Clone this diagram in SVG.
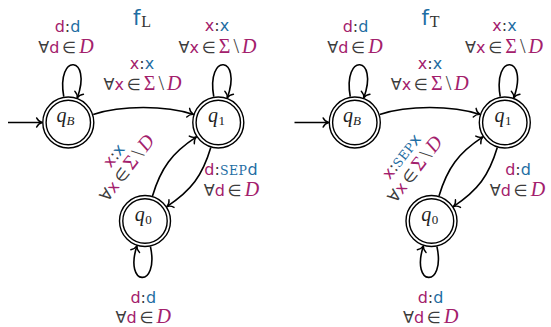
<svg xmlns="http://www.w3.org/2000/svg" width="551" height="327" viewBox="0 0 551 327">
<style>
.e{fill:none;stroke:#000;stroke-width:1.6}
.c{fill:#fff;stroke:#000;stroke-width:1.4}
.ci{fill:none;stroke:#000;stroke-width:1.4}
.q{font-family:"Liberation Serif",serif;font-style:italic;font-size:20px;fill:#222}
.qs{font-family:"Liberation Serif",serif;font-style:normal;font-size:13px;fill:#222}
.qsi{font-family:"Liberation Serif",serif;font-style:italic;font-size:13px;fill:#222}
.l{font-family:"DejaVu Sans",sans-serif;font-size:16px;text-anchor:middle}
.m{fill:#a3206c}
.b{fill:#1f6ea3}
.g{fill:#3c3c3c}
.mt{font-family:"Liberation Serif",serif;font-style:italic;font-size:20px}
.gr{font-family:"Liberation Serif",serif;font-size:20px}
.sc{font-family:"DejaVu Serif",serif;font-size:12.5px;letter-spacing:0.5px}
.ft{font-family:"DejaVu Sans",sans-serif;font-size:21px;fill:#1f6ea3}
.fs{font-family:"Liberation Serif",serif;font-size:16px;fill:#333}
</style>
<defs>
<marker id="arr" markerUnits="userSpaceOnUse" markerWidth="14" markerHeight="14" viewBox="-7 -7 14 14" refX="0" refY="0" orient="auto" overflow="visible">
<path d="M-5.5,-4.6 C-4.2,-2 -1.8,-0.5 0,0 C-1.8,0.5 -4.2,2 -5.5,4.6" fill="none" stroke="#000" stroke-width="1.4" stroke-linecap="round"/>
</marker>
</defs>

<g id="diagram-fL">
<g id="connectors-fL">
<path class="e" d="M8,122.5 L42.1,122.5" marker-end="url(#arr)"/>
<path class="e" d="M93.2,114.4 C121.5,105.2 165.1,105.2 193.4,114.4" marker-end="url(#arr)"/>
<path class="e" d="M152.5,195.9 C160.9,167.8 171.9,153 196.4,136.9" marker-end="url(#arr)"/>
<path class="e" d="M210.8,147.6 C202.4,175.7 191.4,190.5 166.9,206.6" marker-end="url(#arr)"/>
<path class="e" d="M63.75,96.7 C55.95,52.4 92.66,55.6 77.26,97.9" marker-end="url(#arr)"/>
<path class="e" d="M213.75,96.7 C205.95,52.4 242.66,55.6 227.26,97.9" marker-end="url(#arr)"/>
<path class="e" d="M150.45,246.6 C159.4,288.7 123.6,286.8 136.9,245.9" marker-end="url(#arr)"/>
</g>
<g id="node-fL-qB">
<circle class="c" cx="68.3" cy="122.5" r="25.5"/><circle class="ci" cx="68.3" cy="122.5" r="22.2"/>
<text x="56.5" y="122" class="q">q<tspan class="qsi" dy="3">B</tspan></text>
</g>
<g id="node-fL-q1">
<circle class="c" cx="218.3" cy="122.5" r="25.5"/><circle class="ci" cx="218.3" cy="122.5" r="22.2"/>
<text x="208" y="122" class="q">q<tspan class="qs" dx="0.5" dy="3">1</tspan></text>
</g>
<g id="node-fL-q0">
<circle class="c" cx="145" cy="221" r="25.5"/><circle class="ci" cx="145" cy="221" r="22.2"/>
<text x="134.7" y="220.5" class="q">q<tspan class="qs" dx="0.5" dy="3">0</tspan></text>
</g>
<g id="labels-fL">
<text x="142" y="25" text-anchor="middle"><tspan class="ft">f</tspan><tspan class="fs" dx="1" dy="2">L</tspan></text>
<text class="l" x="67.5" y="31.5"><tspan class="m">d</tspan><tspan class="g">:</tspan><tspan class="b">d</tspan></text>
<text class="l" x="66" y="53"><tspan class="g">∀</tspan><tspan class="m">d</tspan><tspan class="g" dx="3">∈</tspan><tspan class="m mt" dx="3">D</tspan></text>
<text class="l" x="217" y="31"><tspan class="m">x</tspan><tspan class="g">:</tspan><tspan class="b">x</tspan></text>
<text class="l" x="217.5" y="53"><tspan class="g">∀</tspan><tspan class="m">x</tspan><tspan class="g" dx="3">∈</tspan><tspan class="m gr" dx="3">Σ</tspan><tspan class="g gr" dx="3">\</tspan><tspan class="m mt" dx="3">D</tspan></text>
<text class="l" x="142" y="68.5"><tspan class="m">x</tspan><tspan class="g">:</tspan><tspan class="b">x</tspan></text>
<text class="l" x="142.5" y="90"><tspan class="g">∀</tspan><tspan class="m">x</tspan><tspan class="g" dx="3">∈</tspan><tspan class="m gr" dx="3">Σ</tspan><tspan class="g gr" dx="3">\</tspan><tspan class="m mt" dx="3">D</tspan></text>
<text class="l" x="231" y="175"><tspan class="m">d</tspan><tspan class="g">:</tspan><tspan class="b sc">SEP</tspan><tspan class="b">d</tspan></text>
<text class="l" x="231.5" y="195.5"><tspan class="g">∀</tspan><tspan class="m">d</tspan><tspan class="g" dx="3">∈</tspan><tspan class="m mt" dx="3">D</tspan></text>
<text class="l" x="143.3" y="303"><tspan class="m">d</tspan><tspan class="g">:</tspan><tspan class="b">d</tspan></text>
<text class="l" x="143.3" y="322.5"><tspan class="g">∀</tspan><tspan class="m">d</tspan><tspan class="g" dx="3">∈</tspan><tspan class="m mt" dx="3">D</tspan></text>
<g transform="translate(131.5,171.8) rotate(-52)">
<text class="l" x="2" y="-18.5"><tspan class="m">x</tspan><tspan class="g">:</tspan><tspan class="b">x</tspan></text>
<text class="l" x="0" y="0"><tspan class="g">∀</tspan><tspan class="m">x</tspan><tspan class="g" dx="3">∈</tspan><tspan class="m gr" dx="3">Σ</tspan><tspan class="g gr" dx="3">\</tspan><tspan class="m mt" dx="3">D</tspan></text>
</g>
</g>
</g>

<g id="diagram-fT" transform="translate(286.5,0)">
<g id="connectors-fT">
<path class="e" d="M8,122.5 L42.1,122.5" marker-end="url(#arr)"/>
<path class="e" d="M93.2,114.4 C121.5,105.2 165.1,105.2 193.4,114.4" marker-end="url(#arr)"/>
<path class="e" d="M152.5,195.9 C160.9,167.8 171.9,153 196.4,136.9" marker-end="url(#arr)"/>
<path class="e" d="M210.8,147.6 C202.4,175.7 191.4,190.5 166.9,206.6" marker-end="url(#arr)"/>
<path class="e" d="M63.75,96.7 C55.95,52.4 92.66,55.6 77.26,97.9" marker-end="url(#arr)"/>
<path class="e" d="M213.75,96.7 C205.95,52.4 242.66,55.6 227.26,97.9" marker-end="url(#arr)"/>
<path class="e" d="M150.45,246.6 C159.4,288.7 123.6,286.8 136.9,245.9" marker-end="url(#arr)"/>
</g>
<g id="node-fT-qB">
<circle class="c" cx="68.3" cy="122.5" r="25.5"/><circle class="ci" cx="68.3" cy="122.5" r="22.2"/>
<text x="56.5" y="122" class="q">q<tspan class="qsi" dy="3">B</tspan></text>
</g>
<g id="node-fT-q1">
<circle class="c" cx="218.3" cy="122.5" r="25.5"/><circle class="ci" cx="218.3" cy="122.5" r="22.2"/>
<text x="208" y="122" class="q">q<tspan class="qs" dx="0.5" dy="3">1</tspan></text>
</g>
<g id="node-fT-q0">
<circle class="c" cx="145" cy="221" r="25.5"/><circle class="ci" cx="145" cy="221" r="22.2"/>
<text x="134.7" y="220.5" class="q">q<tspan class="qs" dx="0.5" dy="3">0</tspan></text>
</g>
<g id="labels-fT">
<text x="144" y="25" text-anchor="middle"><tspan class="ft">f</tspan><tspan class="fs" dx="1" dy="2">T</tspan></text>
<text class="l" x="69" y="31.5"><tspan class="m">d</tspan><tspan class="g">:</tspan><tspan class="b">d</tspan></text>
<text class="l" x="68.5" y="53"><tspan class="g">∀</tspan><tspan class="m">d</tspan><tspan class="g" dx="3">∈</tspan><tspan class="m mt" dx="3">D</tspan></text>
<text class="l" x="218" y="31"><tspan class="m">x</tspan><tspan class="g">:</tspan><tspan class="b">x</tspan></text>
<text class="l" x="217.5" y="53"><tspan class="g">∀</tspan><tspan class="m">x</tspan><tspan class="g" dx="3">∈</tspan><tspan class="m gr" dx="3">Σ</tspan><tspan class="g gr" dx="3">\</tspan><tspan class="m mt" dx="3">D</tspan></text>
<text class="l" x="143.5" y="68.5"><tspan class="m">x</tspan><tspan class="g">:</tspan><tspan class="b">x</tspan></text>
<text class="l" x="143.2" y="90"><tspan class="g">∀</tspan><tspan class="m">x</tspan><tspan class="g" dx="3">∈</tspan><tspan class="m gr" dx="3">Σ</tspan><tspan class="g gr" dx="3">\</tspan><tspan class="m mt" dx="3">D</tspan></text>
<text class="l" x="231.5" y="174.5"><tspan class="m">d</tspan><tspan class="g">:</tspan><tspan class="b">d</tspan></text>
<text class="l" x="231" y="195.5"><tspan class="g">∀</tspan><tspan class="m">d</tspan><tspan class="g" dx="3">∈</tspan><tspan class="m mt" dx="3">D</tspan></text>
<text class="l" x="144" y="302.5"><tspan class="m">d</tspan><tspan class="g">:</tspan><tspan class="b">d</tspan></text>
<text class="l" x="144.2" y="322.5"><tspan class="g">∀</tspan><tspan class="m">d</tspan><tspan class="g" dx="3">∈</tspan><tspan class="m mt" dx="3">D</tspan></text>
<g transform="translate(133,173) rotate(-52)">
<text class="l" x="2" y="-19"><tspan class="m">x</tspan><tspan class="g">:</tspan><tspan class="b sc">SEP</tspan><tspan class="b">x</tspan></text>
<text class="l" x="0" y="0"><tspan class="g">∀</tspan><tspan class="m">x</tspan><tspan class="g" dx="3">∈</tspan><tspan class="m gr" dx="3">Σ</tspan><tspan class="g gr" dx="3">\</tspan><tspan class="m mt" dx="3">D</tspan></text>
</g>
</g>
</g>
</svg>
